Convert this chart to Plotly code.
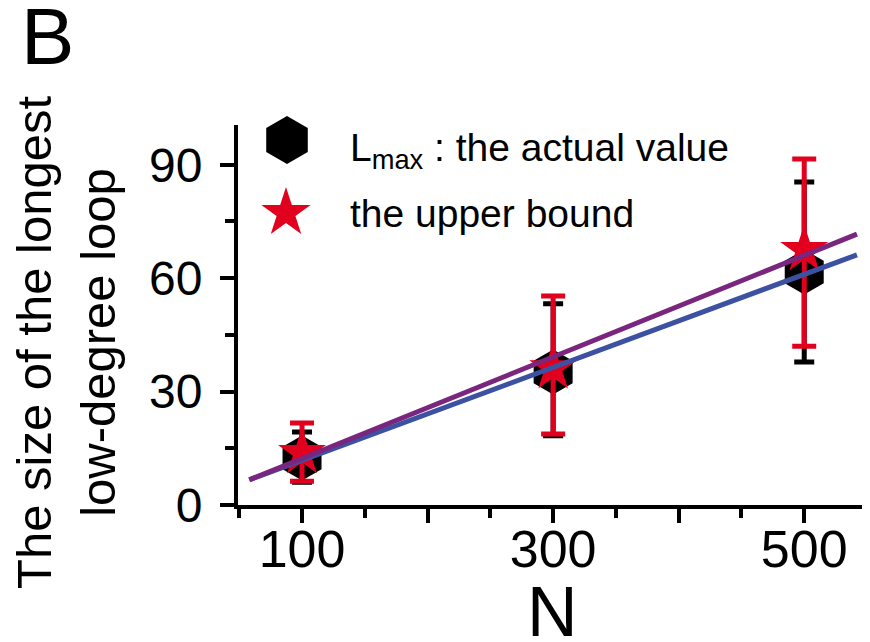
import numpy as np
import plotly.graph_objects as go

# ---- data ----
N = [100, 300, 500]
actual = [12.4, 35.2, 61.6]
actual_hi = [19.3, 53.2, 85.4]
actual_lo = [6.0, 18.3, 37.8]
upper = [13.8, 36.2, 67.5]
upper_hi = [21.7, 55.3, 91.5]
upper_lo = [6.3, 18.8, 42.0]
fit_range = [58, 542]
x_tickvals = [100, 200, 300, 400, 500]
x_ticktext = ["100", "", "300", "", "500"]
y_tickvals = [0, 30, 60, 90]

RED = "#e1001e"
BLUE = "#3d51a3"
PURPLE = "#7a267f"
FONT = "Arial, Liberation Sans, sans-serif"

OFF = 8  # page body margin
W, H = 870 - OFF, 642 - OFF
L, R, T, B = 238 - OFF, 3, 125 - OFF, 137
PW, PH = W - L - R, H - T - B


def px(x):
    return (x - OFF - L) / PW


def py(y):
    return (H - B - (y - OFF)) / PH


fig = go.Figure()

# black: actual value
fig.add_trace(go.Scatter(
    x=N, y=actual, mode="markers",
    marker=dict(symbol="hexagon", size=45, color="black", opacity=1,
                line=dict(width=0)),
    error_y=dict(type="data", symmetric=False,
                 array=[h - v for h, v in zip(actual_hi, actual)],
                 arrayminus=[v - l for v, l in zip(actual, actual_lo)],
                 color="black", thickness=5, width=10),
    showlegend=False, cliponaxis=False))

# red: upper bound
fig.add_trace(go.Scatter(
    x=N, y=upper, mode="markers",
    marker=dict(symbol="star", size=36, color=RED, opacity=1,
                line=dict(width=0)),
    error_y=dict(type="data", symmetric=False,
                 array=[h - v for h, v in zip(upper_hi, upper)],
                 arrayminus=[v - l for v, l in zip(upper, upper_lo)],
                 color=RED, thickness=5, width=12),
    showlegend=False, cliponaxis=False))

# linear fits
xf = np.array(fit_range, dtype=float)
for ys, col in [(actual, BLUE), (upper, PURPLE)]:
    k, b = np.polyfit(N, ys, 1)
    fig.add_trace(go.Scatter(x=xf, y=k * xf + b, mode="lines",
                             line=dict(color=col, width=5),
                             showlegend=False, cliponaxis=False))

# legend keys on an overlay axis (0..1)
for sym, sz, col, kx, ky in [("hexagon", 48, "black", 287, 140),
                             ("star", 37, RED, 286, 213)]:
    fig.add_trace(go.Scatter(
        x=[px(kx)], y=[py(ky)], mode="markers",
        marker=dict(symbol=sym, size=sz, color=col, opacity=1,
                    line=dict(width=0)),
        opacity=1, xaxis="x2", yaxis="y2", showlegend=False,
        cliponaxis=False))

fig.update_layout(
    width=W, height=H,
    margin=dict(l=L, r=R, t=T, b=B, pad=0, autoexpand=False),
    paper_bgcolor="white", plot_bgcolor="white",
    font=dict(family=FONT, color="black"),
    xaxis=dict(range=[49, 550], showgrid=False, zeroline=False,
               automargin=False,
               showline=True, linecolor="black", linewidth=4,
               tickmode="array", tickvals=x_tickvals, ticktext=x_ticktext,
               ticks="outside", ticklen=14, tickwidth=4, tickcolor="black",
               tickfont=dict(size=52, family=FONT), ticklabelstandoff=-18,
               minor=dict(dtick=50, tick0=0, ticks="outside", ticklen=9,
                          tickwidth=4, tickcolor="black", showgrid=False)),
    yaxis=dict(range=[0, 100.5], showgrid=False, zeroline=False,
               automargin=False,
               showline=True, linecolor="black", linewidth=4,
               tickmode="array", tickvals=y_tickvals,
               ticks="outside", ticklen=14, tickwidth=4, tickcolor="black",
               tickfont=dict(size=48, family=FONT), ticklabelstandoff=8,
               minor=dict(dtick=15, tick0=0, ticks="outside", ticklen=9,
                          tickwidth=4, tickcolor="black", showgrid=False)),
    xaxis2=dict(overlaying="x", range=[0, 1], visible=False, fixedrange=True,
                automargin=False),
    yaxis2=dict(overlaying="y", range=[0, 1], visible=False, fixedrange=True,
                automargin=False),
)

ann = [
    dict(text="B", x=px(19), y=py(37), xanchor="left", yanchor="middle",
         font=dict(size=80)),
    dict(text="N", x=0.5, y=py(612), xanchor="center", yanchor="middle",
         font=dict(size=70)),
    dict(text="The size of the longest<br>low-degree loop", textangle=-90,
         x=px(66), y=py(343), xanchor="center", yanchor="middle",
         font=dict(size=49)),
    dict(text="L<sub>max</sub> : the actual value", x=px(348), y=py(150),
         xanchor="left", yanchor="middle", font=dict(size=39)),
    dict(text="the upper bound", x=px(348), y=py(213),
         xanchor="left", yanchor="middle", font=dict(size=39)),
]
for a in ann:
    a.update(xref="paper", yref="paper", showarrow=False)
    a["font"] = dict(family=FONT, color="black", **a["font"])
fig.update_layout(annotations=ann)

fig.write_html("out.html")
